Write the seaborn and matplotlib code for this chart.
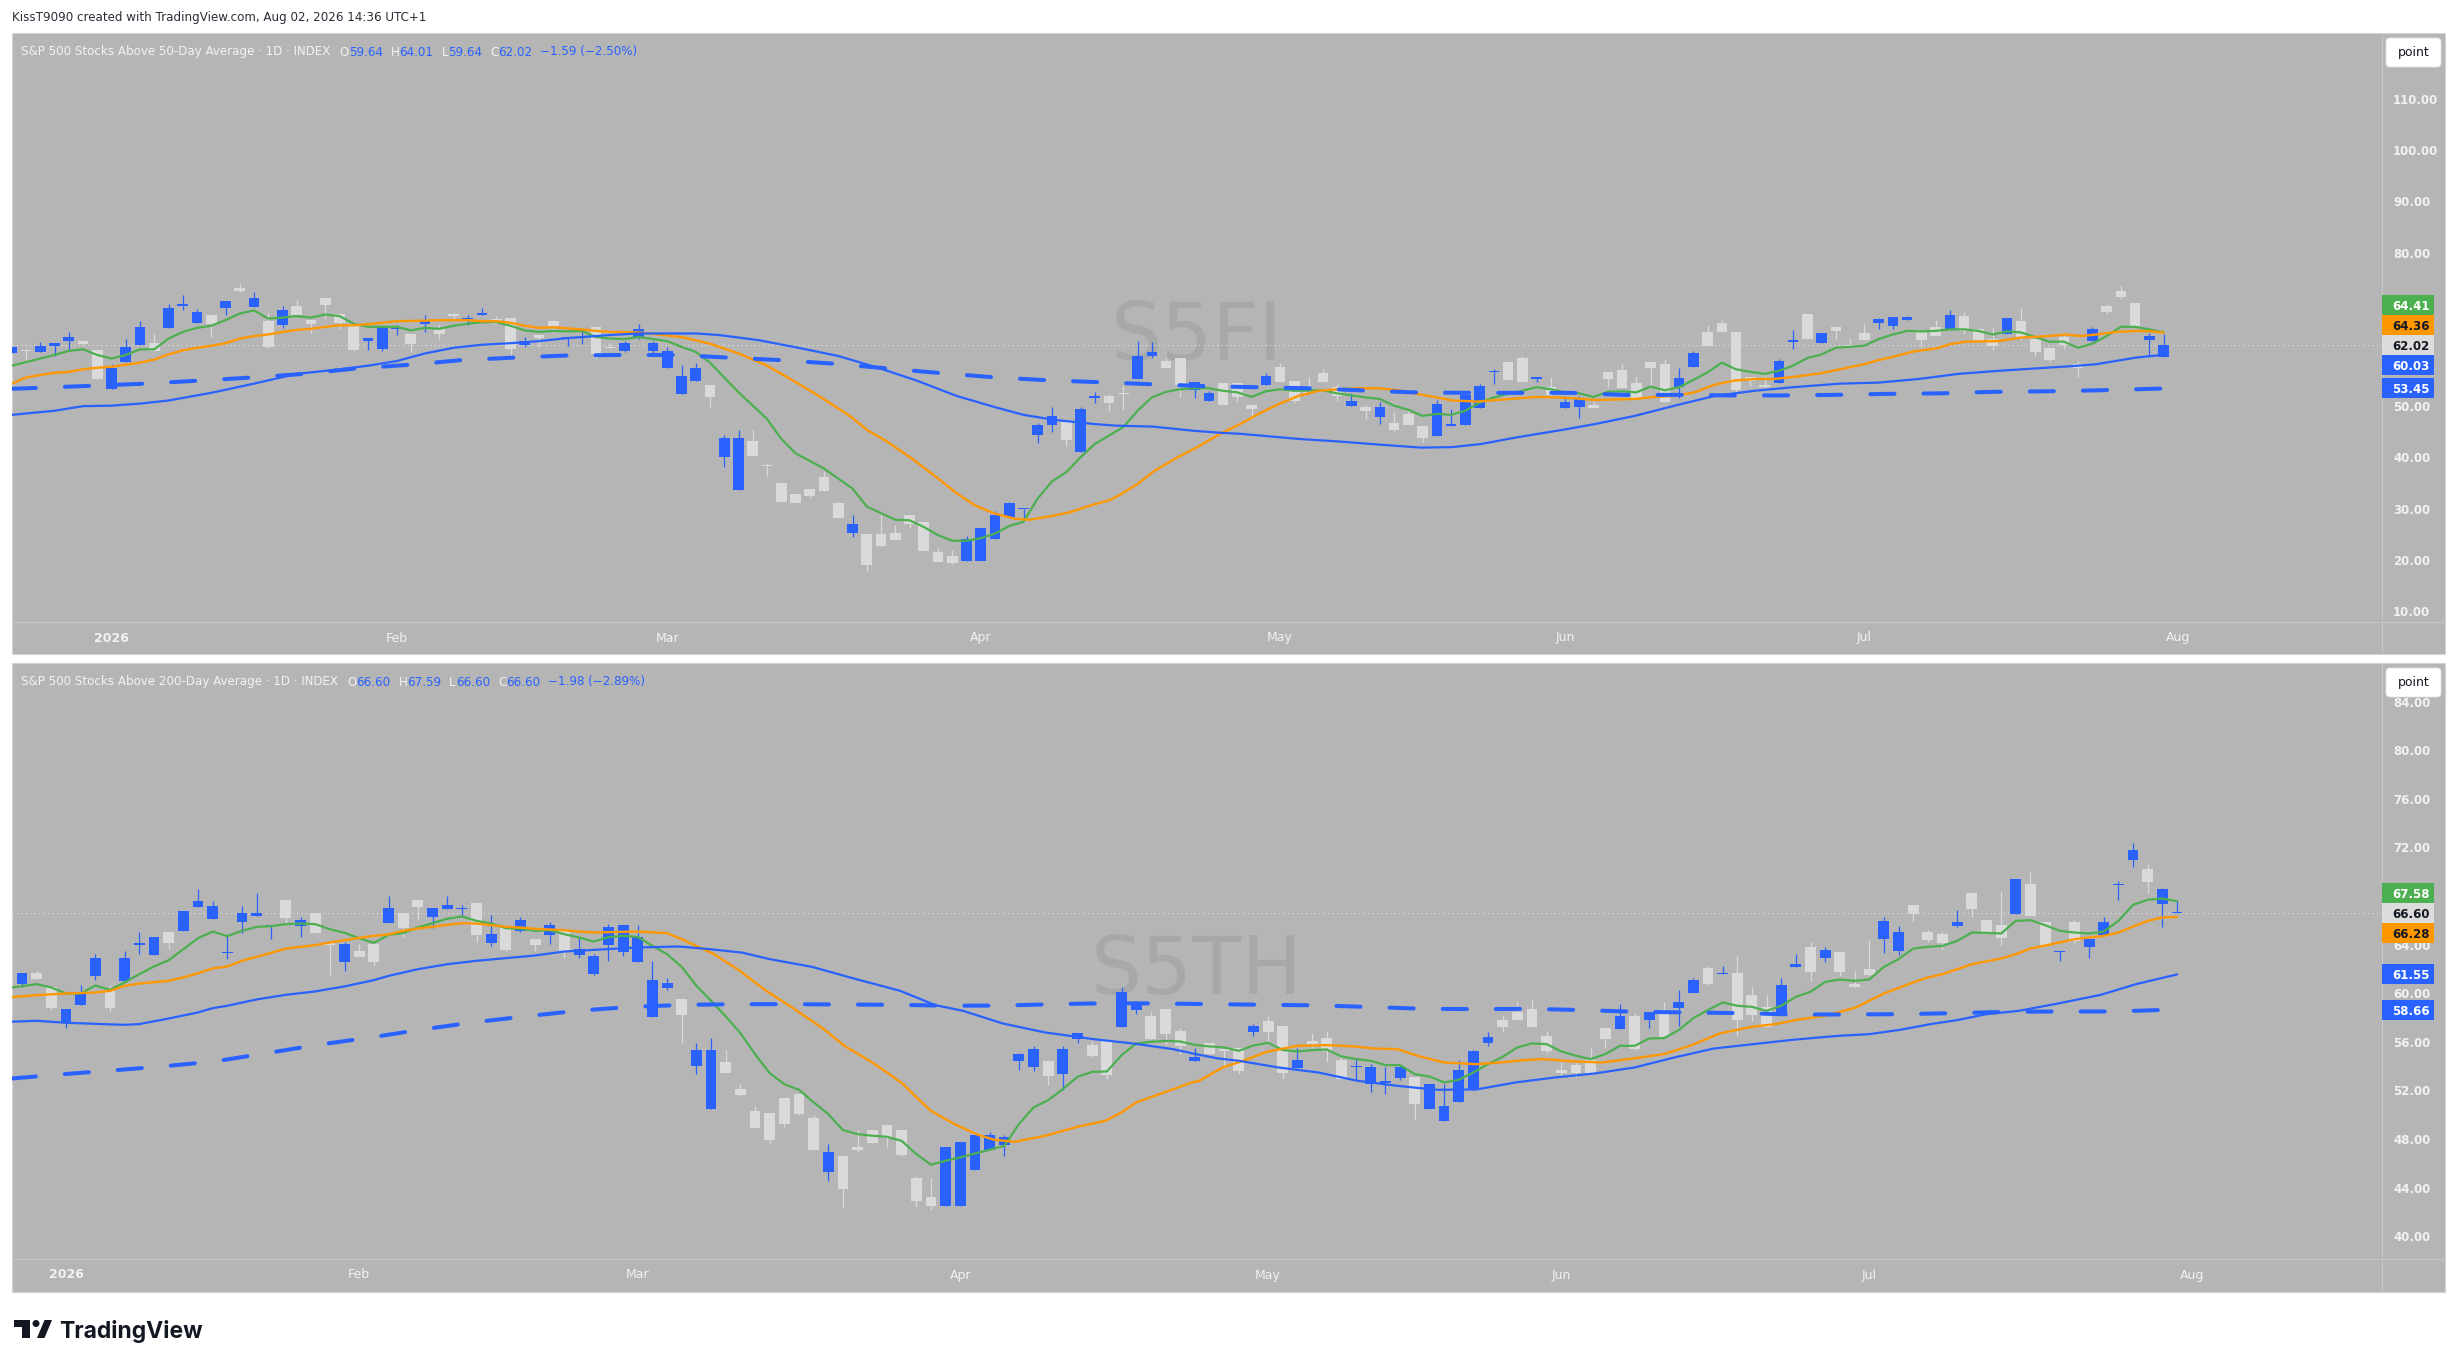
import numpy as np
import pandas as pd
import seaborn as sns
import matplotlib.pyplot as plt
from matplotlib import font_manager
from matplotlib.lines import Line2D
from matplotlib.patches import Rectangle, FancyBboxPatch, Ellipse, Polygon
from matplotlib.transforms import IdentityTransform, blended_transform_factory

# ---------------- data ----------------
session_start = "2025-12-22"
session_end = "2026-08-03"
market_holidays = ["2025-12-25", "2026-01-01", "2026-01-19", "2026-02-16",
                   "2026-04-03", "2026-05-25", "2026-06-19", "2026-07-03"]

header = "KissT9090 created with TradingView.com, Aug 02, 2026 14:36 UTC+1"

# S5FI - % of S&P 500 stocks above 50-day average, first bar = Dec 22 2025
s5fi_title = "S&P 500 Stocks Above 50-Day Average · 1D · INDEX"
s5fi_first_bar = 0
s5fi_open = [60.3, 60.9, 60.5, 61.7, 62.7, 62.7, 61.0, 53.3, 58.7, 61.9,
             62.3, 65.3, 69.6, 66.3, 67.8, 69.2, 73.0, 69.3, 66.6, 65.8,
             69.5, 66.8, 71.1, 68.0, 66.0, 62.7, 61.2, 65.1, 64.1, 66.0,
             65.0, 67.9, 67.0, 67.9, 67.0, 67.2, 61.9, 63.9, 66.6, 63.3,
             64.7, 65.5, 61.6, 60.8, 63.5, 60.7, 57.4, 52.3, 55.0, 54.2,
             40.0, 33.6, 43.1, 38.5, 34.9, 32.8, 33.9, 36.1, 31.0, 25.3,
             25.0, 25.0, 25.2, 28.7, 27.3, 21.5, 20.8, 19.8, 19.8, 24.1,
             28.4, 29.9, 44.3, 46.3, 47.0, 41.0, 51.6, 52.0, 52.5, 55.4,
             59.8, 58.8, 59.4, 53.1, 51.1, 54.6, 54.6, 50.3, 54.2, 57.7,
             55.0, 52.8, 56.5, 53.8, 50.0, 49.9, 47.8, 46.7, 48.4, 46.2,
             44.1, 46.1, 46.3, 49.6, 56.7, 58.6, 59.4, 55.3, 53.8, 49.6,
             49.8, 50.3, 56.7, 57.1, 54.6, 58.6, 58.3, 53.7, 57.7, 64.5,
             66.2, 64.5, 55.7, 54.2, 54.6, 62.6, 68.0, 62.4, 65.5, 61.9,
             64.3, 66.2, 65.7, 66.8, 64.7, 65.5, 65.1, 67.6, 65.1, 63.1,
             64.0, 66.6, 63.1, 61.4, 63.5, 58.3, 62.7, 69.5, 72.5, 70.1,
             63.0, 59.64]
s5fi_high = [61.6, 61.0, 62.5, 62.3, 64.5, 62.9, 61.0, 58.3, 63.1, 66.6,
             64.1, 70.0, 71.7, 69.0, 67.8, 70.5, 73.8, 72.3, 68.2, 69.5,
             70.7, 66.8, 71.1, 68.0, 66.0, 63.3, 65.5, 65.8, 64.1, 67.8,
             65.8, 68.2, 67.9, 69.2, 67.6, 67.2, 63.5, 63.9, 66.7, 63.5,
             65.1, 65.5, 62.3, 62.7, 66.1, 62.7, 61.6, 58.1, 58.5, 54.2,
             44.3, 45.4, 45.6, 38.8, 35.2, 32.8, 33.9, 37.3, 31.3, 28.7,
             25.0, 28.7, 26.7, 28.7, 27.3, 22.3, 21.9, 24.7, 26.2, 29.5,
             31.2, 30.0, 46.8, 49.9, 47.0, 49.9, 52.8, 52.4, 54.0, 62.7,
             62.5, 59.4, 59.4, 54.7, 53.0, 54.6, 54.6, 50.3, 56.4, 58.5,
             55.0, 55.6, 57.3, 54.3, 52.5, 50.3, 50.8, 48.9, 49.5, 46.2,
             51.2, 49.5, 52.5, 54.4, 57.2, 58.6, 59.8, 55.7, 55.6, 52.0,
             52.0, 51.1, 56.7, 58.3, 55.9, 58.6, 59.2, 57.5, 60.8, 65.8,
             66.8, 64.7, 55.7, 55.9, 59.2, 64.9, 68.0, 64.3, 65.5, 63.3,
             66.0, 67.2, 67.4, 67.6, 64.7, 66.8, 68.8, 68.4, 65.1, 65.5,
             67.2, 69.2, 63.1, 61.4, 64.3, 58.8, 65.5, 70.0, 73.6, 70.1,
             64.3, 64.01]
s5fi_low = [60.3, 59.0, 60.5, 59.8, 60.8, 62.1, 55.4, 53.3, 58.7, 61.9,
            60.8, 65.3, 68.8, 66.3, 63.5, 67.8, 72.3, 69.3, 61.3, 65.3,
            67.8, 64.2, 67.1, 65.1, 61.0, 61.0, 60.8, 63.9, 60.5, 64.4,
            63.1, 66.8, 65.8, 67.9, 66.1, 60.0, 61.6, 61.6, 64.4, 61.8,
            62.1, 59.3, 61.3, 60.5, 63.1, 60.0, 57.4, 52.3, 55.0, 49.8,
            38.1, 33.6, 40.2, 36.3, 31.3, 31.1, 32.1, 33.4, 28.2, 24.5,
            17.7, 22.7, 23.9, 26.1, 21.7, 19.6, 19.2, 19.8, 19.8, 24.1,
            28.4, 27.9, 42.8, 44.9, 42.3, 41.0, 50.7, 49.0, 49.3, 55.4,
            59.5, 57.4, 51.7, 51.5, 51.1, 50.2, 50.9, 47.4, 54.2, 54.8,
            50.7, 52.5, 54.8, 51.1, 50.0, 47.4, 46.6, 45.1, 46.3, 43.0,
            44.1, 46.1, 46.3, 49.6, 54.4, 55.1, 54.8, 54.8, 52.1, 49.6,
            47.6, 49.6, 53.8, 53.5, 51.5, 53.5, 50.9, 51.6, 57.7, 61.8,
            64.4, 51.9, 54.0, 53.8, 54.6, 61.2, 63.2, 62.4, 63.2, 61.5,
            63.0, 65.0, 65.0, 66.8, 61.6, 63.8, 65.1, 64.0, 62.9, 61.0,
            64.0, 63.0, 59.7, 58.8, 61.2, 55.7, 62.7, 68.1, 71.0, 65.7,
            59.8, 59.64]
s5fi_close = [61.6, 60.7, 61.8, 62.3, 63.5, 62.1, 55.4, 57.5, 61.6, 65.5,
              60.8, 69.2, 69.9, 68.4, 66.1, 70.5, 72.5, 71.1, 61.6, 68.8,
              67.8, 66.0, 69.7, 66.3, 61.0, 63.3, 65.5, 65.3, 62.2, 66.6,
              64.1, 67.7, 67.1, 68.1, 66.1, 61.2, 62.7, 63.4, 65.7, 63.5,
              65.0, 60.2, 61.3, 62.3, 65.1, 62.3, 60.8, 55.9, 57.4, 51.7,
              43.7, 43.7, 40.2, 38.3, 31.3, 31.1, 32.5, 33.4, 28.2, 26.9,
              19.0, 22.7, 23.9, 27.0, 21.7, 19.6, 19.4, 24.0, 26.2, 28.7,
              31.0, 30.0, 46.4, 48.1, 43.3, 49.5, 52.0, 50.7, 52.3, 59.8,
              60.6, 57.4, 54.2, 54.7, 52.5, 50.2, 51.8, 49.4, 55.9, 54.8,
              51.1, 52.5, 54.8, 51.9, 51.1, 49.1, 49.9, 45.3, 46.3, 43.7,
              50.5, 46.6, 52.1, 54.0, 56.9, 55.1, 54.8, 55.7, 52.1, 50.9,
              51.3, 49.6, 55.4, 53.5, 51.5, 57.5, 50.9, 55.5, 60.4, 61.8,
              64.4, 53.2, 55.0, 53.8, 58.8, 62.7, 63.2, 64.3, 64.7, 61.5,
              63.0, 67.0, 67.4, 67.4, 63.0, 63.8, 67.8, 64.7, 62.9, 61.7,
              67.2, 63.4, 60.5, 59.1, 62.0, 57.5, 65.0, 68.4, 71.4, 65.7,
              63.61, 62.02]

# moving averages of S5FI as (bar, value) points
s5fi_ma_fast = [(0, 57.9), (2, 59.3), (3, 60.0), (4, 60.8), (5, 61.1), (6, 60.0), (7, 59.3), (8, 60.0),
                (9, 61.1), (10, 61.1), (11, 63.2), (12, 64.5), (13, 65.3), (14, 65.7), (15, 66.8), (16, 68.1),
                (17, 68.7), (18, 67.1), (19, 67.3), (20, 67.6), (21, 67.3), (22, 67.9), (23, 67.6), (24, 66.1),
                (25, 65.5), (27, 65.5), (28, 64.8), (29, 65.3), (30, 65.1), (31, 65.7), (32, 66.1), (33, 66.4),
                (34, 66.4), (35, 65.7), (36, 64.8), (37, 64.5), (38, 64.7), (39, 64.6), (40, 64.7), (41, 63.5),
                (42, 63.2), (43, 63.1), (44, 63.5), (46, 62.7), (47, 61.6), (48, 60.6), (49, 58.5), (50, 55.6),
                (51, 52.7), (53, 47.5), (54, 43.6), (55, 40.8), (57, 37.8), (59, 33.9), (60, 30.4), (62, 27.8),
                (63, 27.7), (64, 26.4), (65, 24.8), (66, 23.7), (67, 23.7), (68, 24.2), (69, 25.1), (70, 26.6),
                (71, 27.4), (72, 32.0), (73, 35.3), (74, 37.1), (75, 40.0), (76, 42.6), (78, 45.9), (79, 49.1),
                (80, 51.7), (81, 52.8), (82, 53.3), (83, 53.5), (84, 53.5), (85, 53.0), (86, 52.7), (87, 51.8),
                (88, 52.9), (89, 53.3), (90, 53.0), (92, 53.1), (93, 52.5), (95, 51.7), (96, 51.4), (97, 50.1),
                (98, 49.3), (99, 48.1), (100, 48.5), (101, 48.3), (102, 49.1), (103, 50.7), (104, 51.7),
                (105, 52.4), (106, 53.0), (107, 53.7), (108, 53.3), (109, 52.7), (110, 52.5), (111, 51.8),
                (112, 52.8), (113, 52.9), (114, 52.7), (115, 53.8), (116, 53.1), (117, 53.7), (118, 55.1),
                (119, 56.6), (120, 58.5), (121, 57.2), (122, 56.7), (123, 56.3), (124, 56.9), (125, 57.9),
                (126, 59.4), (127, 60.1), (128, 61.4), (129, 61.6), (130, 61.8), (131, 63.1), (132, 64.0),
                (133, 64.7), (134, 64.6), (135, 64.7), (136, 65.0), (137, 65.0), (138, 64.7), (139, 64.0),
                (140, 64.6), (141, 64.4), (142, 63.5), (143, 62.6), (144, 62.6), (145, 61.4), (146, 62.2),
                (147, 63.7), (148, 65.5), (149, 65.5), (150, 65.0), (151, 64.41)]
s5fi_ma_mid = [(0, 54.4), (1, 55.6), (2, 56.1), (3, 56.5), (4, 56.7), (5, 57.2), (6, 57.5), (7, 57.7), (8, 58.1),
               (9, 58.5), (10, 59.1), (11, 60.1), (12, 60.9), (13, 61.4), (14, 61.8), (15, 62.3), (16, 63.2),
               (17, 63.7), (18, 64.0), (19, 64.5), (20, 64.9), (21, 65.1), (22, 65.5), (23, 65.8), (24, 65.8),
               (25, 66.0), (26, 66.3), (27, 66.6), (29, 66.7), (30, 66.8), (31, 66.8), (32, 66.8), (33, 66.6),
               (34, 66.6), (35, 66.3), (36, 65.7), (37, 65.3), (38, 65.4), (39, 65.2), (40, 65.0), (41, 64.7),
               (42, 64.5), (44, 64.4), (47, 63.5), (49, 62.2), (51, 60.3), (53, 57.9), (55.2, 54.4), (56.8, 51.7),
               (58.8, 48.1), (60.1, 45.2), (61.3, 43.3), (63.2, 39.7), (64.9, 36.1), (66.3, 33.0), (67.6, 30.6),
               (69, 29.0), (70.4, 28.0), (71.4, 27.8), (72.9, 28.5), (74.3, 29.3), (75.7, 30.6), (77.1, 31.7),
               (77.9, 32.9), (79, 34.8), (80.1, 37.2), (81.8, 40.0), (83.2, 42.0), (84.8, 44.6), (86.2, 46.5),
               (87.5, 48.5), (88.9, 50.4), (90.3, 52.0), (91.7, 53.0), (93.1, 53.3), (94.5, 53.5), (95.9, 53.5),
               (97.3, 53.1), (98.6, 52.4), (100, 51.7), (101.1, 51.1), (102.8, 50.9), (104.2, 51.2),
               (105.6, 51.5), (107, 51.8), (108.4, 51.7), (109.8, 51.5), (111.1, 51.2), (112.5, 51.3),
               (113.9, 51.4), (115.3, 51.8), (116.7, 52.0), (118.1, 52.7), (119.5, 54.2), (120.9, 55.0),
               (122.3, 55.3), (123.6, 55.3), (125, 55.7), (126.9, 56.4), (128.3, 57.2), (130, 58.2), (131, 59.0),
               (132.1, 59.7), (133.5, 60.7), (135.1, 61.3), (136, 62.1), (137.1, 62.6), (139.4, 62.7),
               (141, 63.4), (143, 63.7), (144.1, 64.0), (145.2, 63.7), (146.3, 64.0), (147.7, 64.5),
               (149.1, 64.7), (150.2, 64.6), (151, 64.36)]
s5fi_ma_slow = [(0, 48.3), (3, 49.1), (5, 50.0), (7, 50.1), (9, 50.5), (11, 51.1), (14, 52.6), (17, 54.4),
                (20, 56.3), (23, 57.2), (25, 57.9), (27, 58.8), (29, 60.3), (31, 61.4), (33, 62.0), (35, 62.3),
                (37, 62.7), (39, 63.3), (41, 63.7), (42, 63.9), (44, 64.2), (48, 64.2), (49.6, 63.9),
                (52.4, 62.9), (55.2, 61.4), (58, 59.8), (60.8, 57.5), (63.5, 55.0), (66.3, 52.0), (69, 49.8),
                (71, 48.3), (73.2, 47.3), (76, 46.5), (77.4, 46.2), (80.1, 46.0), (82.9, 45.2), (84.8, 44.8),
                (86.2, 44.6), (90.3, 43.6), (93.1, 43.1), (95.9, 42.5), (98.9, 41.9), (101.1, 42.0),
                (103.1, 42.6), (105.6, 43.9), (108.9, 45.4), (111.1, 46.5), (113.9, 48.1), (116.7, 50.1),
                (119.5, 52.0), (122.3, 53.0), (125, 53.7), (128.3, 54.4), (131, 54.6), (133.8, 55.3),
                (136.6, 56.3), (139.4, 56.9), (142.2, 57.4), (145, 57.9), (146.3, 58.2), (149.1, 59.5),
                (151, 60.03)]
s5fi_ma_long = [(0, 53.4), (1.1, 53.5), (5.8, 54.0), (9.4, 54.4), (13.2, 55.0), (16.9, 55.6), (20.5, 56.3),
                (24.3, 57.4), (28, 58.1), (31.6, 59.0), (35.4, 59.5), (39, 59.9), (42.8, 60.0), (46.6, 60.0),
                (50.2, 59.5), (53.9, 59.0), (57.7, 58.3), (61.3, 57.4), (65, 56.5), (68.6, 55.7), (72.4, 55.1),
                (76.1, 54.7), (79.8, 54.3), (83.9, 53.9), (87.3, 53.7), (90.9, 53.5), (94.6, 53.1), (98.3, 52.7),
                (102, 52.6), (105.7, 52.6), (109.4, 52.6), (113.1, 52.2), (116.9, 52.2), (120.5, 52.1),
                (124.3, 52.1), (127.9, 52.2), (131.6, 52.4), (135.3, 52.5), (139.1, 52.8), (142.8, 52.9),
                (146.5, 53.1), (151, 53.45)]

# S5TH - % of S&P 500 stocks above 200-day average, first visible bar = Dec 26 2025
s5th_title = "S&P 500 Stocks Above 200-Day Average · 1D · INDEX"
s5th_first_bar = 3
s5th_open = [60.90, 60.75, 61.65, 60.50, 57.51, 59.02, 61.41,
             60.25, 60.99, 64.00, 63.14, 65.03, 65.11, 67.09, 66.10, 63.33, 65.85,
             66.37, 65.52, 67.66, 65.52, 66.59, 64.20, 62.56, 63.46, 64.04, 65.77,
             66.59, 67.66, 66.26, 66.92, 66.92, 67.41, 64.12, 65.44, 65.11, 64.45,
             64.78, 65.19, 63.14, 61.57, 63.96, 63.41, 62.59, 58.06, 60.42, 59.51,
             54.02, 50.49, 54.33, 52.11, 50.30, 50.13, 51.37, 51.70, 49.72, 45.30,
             46.59, 47.36, 48.73, 49.14, 48.73, 44.81, 43.25, 42.50, 42.50, 45.47,
             47.11, 47.52, 54.44, 53.94, 54.41, 53.37, 56.25, 55.73, 56.06, 57.24,
             58.64, 58.12, 58.69, 56.88, 54.44, 55.89, 55.45, 55.48, 56.82, 57.70,
             57.29, 53.86, 56.06, 56.30, 54.49, 53.94, 52.55, 52.63, 53.04, 53.09,
             50.49, 49.50, 51.06, 52.05, 55.89, 57.78, 58.44, 58.69, 56.47, 53.67,
             54.08, 54.49, 57.13, 57.05, 58.12, 57.78, 58.44, 58.77, 60.01, 62.07,
             61.60, 61.65, 59.84, 58.85, 58.36, 62.17, 63.79, 62.89, 63.38, 60.75,
             61.98, 64.45, 63.46, 67.25, 65.03, 64.86, 65.52, 68.24, 66.02, 65.60,
             66.51, 68.98, 65.85, 63.38, 65.85, 63.79, 64.78, 68.90, 70.95, 70.21,
             67.33, 66.60]
s5th_high = [60.90, 61.65, 61.85, 60.50, 58.69, 60.67, 63.22,
             60.67, 63.46, 65.03, 64.62, 65.03, 66.76, 68.57, 67.58, 64.78, 67.17,
             68.24, 65.58, 67.66, 66.26, 66.59, 64.20, 64.20, 64.04, 64.20, 67.99,
             66.59, 67.66, 67.00, 67.99, 67.25, 67.41, 66.43, 65.44, 66.26, 64.45,
             65.85, 65.19, 64.62, 63.22, 65.69, 65.60, 65.60, 62.64, 61.24, 59.51,
             55.89, 56.30, 55.32, 52.52, 50.71, 50.13, 51.37, 51.70, 49.97, 47.58,
             46.59, 48.73, 48.73, 49.14, 48.73, 44.97, 44.81, 47.36, 47.74, 48.32,
             48.57, 48.32, 55.07, 55.65, 54.41, 55.65, 56.72, 56.03, 56.06, 60.50,
             59.27, 58.44, 58.69, 57.13, 55.48, 55.89, 55.45, 55.48, 57.46, 58.12,
             57.29, 55.48, 56.72, 56.88, 55.01, 54.69, 54.19, 53.92, 53.92, 53.09,
             52.52, 52.52, 54.49, 55.32, 56.80, 58.20, 59.27, 59.51, 56.88, 54.33,
             54.36, 55.48, 57.13, 59.10, 58.39, 58.44, 59.27, 60.25, 61.24, 62.23,
             62.23, 63.05, 60.50, 59.84, 61.24, 63.22, 64.20, 63.77, 63.38, 61.82,
             64.37, 66.26, 65.52, 67.25, 65.19, 65.03, 66.84, 68.24, 66.02, 68.40,
             69.39, 70.05, 65.85, 63.46, 66.02, 64.45, 66.26, 69.23, 72.35, 70.62,
             68.65, 67.59]
s5th_low = [60.50, 60.50, 61.16, 58.66, 57.15, 59.02, 61.08,
            58.47, 60.99, 63.22, 63.14, 63.63, 65.11, 67.09, 66.10, 62.81, 64.97,
            66.37, 64.45, 65.69, 64.62, 64.95, 61.49, 61.82, 62.97, 62.23, 65.77,
            64.62, 66.02, 65.36, 66.92, 66.26, 64.20, 63.88, 63.46, 65.03, 63.46,
            64.04, 62.89, 62.89, 61.49, 62.64, 63.08, 62.59, 58.06, 60.25, 55.92,
            53.34, 50.49, 53.45, 51.53, 48.92, 47.61, 49.01, 49.97, 47.11, 44.56,
            42.42, 46.95, 47.69, 47.36, 46.62, 42.42, 42.15, 42.50, 42.50, 45.47,
            47.11, 46.62, 53.67, 53.61, 52.46, 52.05, 55.92, 54.77, 52.96, 57.24,
            58.28, 56.25, 55.76, 54.99, 54.44, 55.01, 53.94, 53.37, 56.49, 56.00,
            52.93, 53.86, 55.51, 54.36, 52.96, 52.87, 51.89, 51.72, 52.87, 49.58,
            50.49, 49.50, 51.06, 52.05, 55.65, 56.80, 57.78, 57.21, 55.07, 53.12,
            53.12, 53.45, 55.48, 57.05, 55.32, 57.13, 56.39, 57.29, 60.01, 60.67,
            61.60, 56.47, 57.70, 57.21, 58.36, 62.17, 60.99, 62.56, 61.41, 60.53,
            61.49, 63.30, 63.14, 65.85, 64.20, 63.63, 65.44, 66.26, 64.86, 63.88,
            66.51, 66.35, 63.96, 62.64, 64.12, 62.89, 64.78, 67.66, 70.38, 68.24,
            65.44, 66.60]
s5th_close = [60.50, 61.65, 61.16, 58.77, 58.69, 60.09, 62.89,
              58.77, 62.89, 64.10, 64.62, 64.12, 66.76, 67.58, 67.17, 63.41, 66.59,
              66.59, 65.58, 66.18, 66.02, 64.95, 63.99, 64.04, 62.97, 62.56, 67.00,
              65.36, 67.09, 67.00, 67.25, 66.98, 64.78, 64.86, 63.55, 66.02, 63.96,
              65.60, 63.38, 63.63, 63.05, 65.44, 65.60, 64.62, 61.08, 60.83, 58.22,
              55.32, 55.32, 53.45, 51.64, 48.92, 47.94, 49.25, 50.05, 47.11, 46.92,
              43.90, 47.11, 47.69, 48.10, 46.70, 42.92, 42.50, 47.36, 47.74, 48.32,
              48.32, 48.16, 54.99, 55.40, 53.20, 55.40, 56.72, 54.85, 53.29, 60.09,
              59.10, 56.25, 56.66, 55.67, 54.74, 55.01, 55.27, 53.61, 57.29, 56.82,
              53.45, 54.49, 55.84, 55.23, 52.96, 54.00, 53.92, 52.71, 53.92, 50.90,
              52.52, 50.71, 53.67, 55.23, 56.39, 57.21, 57.78, 57.21, 55.23, 53.45,
              53.45, 53.45, 56.22, 58.12, 55.40, 58.44, 56.39, 59.27, 61.08, 60.75,
              61.65, 57.78, 58.20, 57.21, 60.67, 62.39, 61.74, 63.55, 61.74, 60.53,
              61.49, 65.93, 65.03, 66.56, 64.37, 64.12, 65.85, 66.92, 64.95, 64.53,
              69.39, 66.35, 63.96, 63.46, 64.29, 64.45, 65.85, 68.98, 71.78, 69.14,
              68.58, 66.60]

s5th_ma_fast = [(3, 60.42), (5, 60.75), (6, 60.47), (7, 59.98), (8, 59.98), (9, 60.64), (10, 60.28), (11, 60.89),
                (12, 61.57), (13, 62.20), (14, 62.72), (15, 63.63), (16, 64.53), (17, 65.08), (18, 64.70),
                (19, 65.14), (20, 65.47), (21, 65.52), (22, 65.69), (23, 65.74), (24, 65.69), (25, 65.27),
                (26, 64.97), (27, 64.53), (28, 64.15), (29, 64.81), (30, 64.95), (31, 65.41), (32, 65.77),
                (33, 66.13), (34, 66.32), (35, 65.96), (36, 65.74), (37, 65.36), (38, 65.30), (39, 65.14),
                (40, 65.19), (41, 64.86), (42, 64.59), (43, 64.26), (44, 64.62), (45, 64.73), (46, 64.64),
                (47, 63.90), (48, 63.22), (49, 62.17), (50, 60.61), (51, 59.38), (52, 58.09), (53, 56.72),
                (54, 54.99), (55, 53.42), (56, 52.52), (57, 52.05), (58, 51.01), (59, 50.05), (60, 48.73),
                (61, 48.40), (62, 48.27), (63, 48.18), (64, 47.85), (65, 46.76), (66, 45.88), (67, 46.21),
                (68, 46.48), (69, 46.81), (70, 47.11), (71, 47.44), (72, 49.23), (73, 50.60), (74, 51.20),
                (75, 52.11), (76, 53.12), (77, 53.53), (78, 53.56), (79, 54.90), (80, 55.86), (81, 56.00),
                (82, 56.08), (83, 56.03), (84, 55.75), (85, 55.62), (86, 55.54), (87, 55.26), (88, 55.70),
                (89, 55.92), (90, 55.32), (91, 55.21), (92, 55.32), (93, 55.37), (94, 54.80), (95, 54.58),
                (96, 54.44), (97, 54.08), (98, 54.08), (99, 53.34), (100, 53.15), (101, 52.66), (102, 52.87),
                (103, 53.48), (104, 54.16), (105, 54.77), (106, 55.54), (107, 55.87), (108, 55.81),
                (109, 55.21), (110, 54.85), (111, 54.58), (112, 54.99), (113, 55.67), (114, 55.67),
                (115, 56.28), (116, 56.30), (117, 56.96), (118, 57.95), (119, 58.61), (120, 59.24),
                (121, 58.97), (122, 58.88), (123, 58.55), (124, 58.97), (125, 59.71), (126, 60.12),
                (127, 60.94), (128, 61.13), (129, 61.02), (130, 61.13), (131, 62.17), (132, 62.81),
                (133, 63.68), (134, 63.82), (135, 63.90), (136, 64.31), (137, 65.00), (138, 64.97),
                (139, 64.92), (140, 65.96), (141, 66.02), (142, 65.60), (143, 65.14), (144, 65.00),
                (145, 64.92), (146, 65.08), (147, 65.96), (148, 67.28), (149, 67.69), (150, 67.80),
                (151, 67.58)]
s5th_ma_mid = [(3, 59.65), (5, 59.84), (7, 59.98), (9, 60.06), (10, 60.20), (11, 60.61), (12, 60.80), (14, 61.02),
               (15, 61.30), (16, 61.65), (17, 62.04), (18, 62.20), (19, 62.67), (20, 63.00), (21, 63.33),
               (22, 63.68), (23, 63.82), (24, 63.96), (25, 64.18), (26, 64.37), (27, 64.56), (28, 64.73),
               (29, 64.84), (30, 65.14), (31, 65.33), (32, 65.47), (33, 65.63), (34, 65.77), (35, 65.74),
               (36, 65.60), (37, 65.47), (38, 65.41), (39, 65.30), (40, 65.25), (41, 65.19), (42, 65.08),
               (43, 65.00), (44, 65.03), (46, 65.08), (48, 64.95), (49, 64.45), (51.2, 63.22), (52.9, 61.90),
               (54.7, 60.25), (56.6, 58.77), (58.7, 57.04), (60.1, 55.67), (62, 54.30), (63, 53.48),
               (64.1, 52.52), (64.9, 51.56), (66, 50.32), (67.6, 49.23), (69.2, 48.35), (70.3, 47.94),
               (71.7, 47.77), (73.8, 48.27), (76, 49.01), (77.9, 49.50), (79, 50.19), (80, 51.01),
               (81.9, 51.83), (83.8, 52.66), (84.3, 52.79), (85.9, 53.89), (87.3, 54.44), (88.9, 55.18),
               (91, 55.67), (93, 55.73), (94.9, 55.62), (96.2, 55.45), (97.8, 55.40), (99.2, 54.85),
               (101, 54.30), (103.2, 54.16), (104.8, 54.30), (106.4, 54.49), (107.8, 54.58), (109.9, 54.38),
               (111.8, 54.30), (113.9, 54.63), (116, 54.99), (117.9, 55.73), (119.8, 56.69), (122, 57.24),
               (123.6, 57.46), (125.2, 57.84), (127, 58.14), (129.1, 58.83), (130, 59.38), (131, 59.98),
               (133, 60.89), (134, 61.30), (135, 61.57), (137, 62.39), (139, 62.86), (140, 63.22),
               (141, 63.68), (143, 64.18), (144, 64.45), (146, 64.73), (147, 65.00), (148, 65.49),
               (149, 65.96), (150, 66.24), (151, 66.28)]
s5th_ma_slow = [(3, 57.65), (5, 57.73), (7, 57.57), (9, 57.48), (11, 57.40), (12, 57.46), (14, 57.92),
                (16, 58.42), (17, 58.77), (18, 58.97), (20, 59.49), (22, 59.87), (24, 60.15), (25, 60.36),
                (26, 60.56), (28, 61.08), (29, 61.43), (31, 61.98), (33, 62.39), (35, 62.67), (37, 62.89),
                (39, 63.11), (41, 63.44), (43, 63.57), (46, 63.77), (48.8, 63.85), (50.9, 63.63), (53.1, 63.35),
                (55, 62.81), (57.9, 62.17), (60.9, 61.16), (63.9, 60.20), (66.3, 59.02), (68.2, 58.55),
                (70.9, 57.51), (73.8, 56.77), (77.1, 56.22), (79.8, 55.86), (82.5, 55.40), (84.3, 54.93),
                (85.6, 54.63), (87, 54.44), (89.7, 53.89), (92.4, 53.48), (95.1, 52.79), (97.8, 52.38),
                (100.5, 52.05), (103.2, 52.08), (105.9, 52.66), (108.6, 53.07), (111.3, 53.40), (114, 53.89),
                (116.7, 54.71), (119.4, 55.45), (122.1, 55.81), (124.8, 56.17), (126.6, 56.36), (128, 56.50),
                (130, 56.63), (132.1, 56.99), (134.2, 57.46), (136.1, 57.81), (138, 58.28), (140.2, 58.55),
                (142.9, 59.16), (145.8, 59.87), (148.2, 60.75), (151, 61.55)]
s5th_ma_long = [(3.3, 52.98), (6.3, 53.29), (9.9, 53.62), (13.5, 53.97), (17.1, 54.38), (20.7, 55.07),
                (24.2, 55.76), (27.8, 56.36), (31.3, 57.02), (34.9, 57.62), (38.5, 58.12), (42.1, 58.58),
                (45.6, 58.88), (49.3, 59.05), (52.9, 59.10), (56.5, 59.10), (60.1, 59.07), (63.7, 59.05),
                (67.3, 58.97), (70.9, 58.99), (74.5, 59.10), (78, 59.18), (81.6, 59.16), (85.3, 59.10),
                (88.9, 59.05), (92.5, 59.00), (96.1, 58.86), (99.7, 58.72), (103.3, 58.69), (106.9, 58.72),
                (110.5, 58.61), (114.2, 58.47), (117.7, 58.42), (121.3, 58.36), (124.9, 58.25), (128.6, 58.25),
                (132.2, 58.28), (135.8, 58.36), (139.4, 58.47), (143, 58.50), (146.6, 58.50), (151, 58.66)]

s5fi_yticks = [10, 20, 30, 40, 50, 60, 70, 80, 90, 100, 110]
s5th_yticks = [40, 44, 48, 52, 56, 60, 64, 68, 72, 76, 80, 84]

# ---------------- style ----------------
sns.set_style("white")
installed = {f.name for f in font_manager.fontManager.ttflist}
if "Liberation Sans Narrow" in installed:
    NARROW, NARROW_SIZE = ["Liberation Sans Narrow", "DejaVu Sans"], 10
else:
    NARROW, NARROW_SIZE = ["DejaVu Sans"], 8.6
plt.rcParams["font.family"] = ["DejaVu Sans"]

BG = "#b5b5b5"
SEP = "#c6c6c6"
BLUE = "#2962ff"
CANDLE_DOWN = "#dadada"
GREEN = "#4caf50"
ORANGE = "#ff9800"
LIGHT = "#f2f2f2"
DARK = "#131722"

W, H = 2457, 1365
LEFT, PRICE_X, RIGHT = 12, 2382, 2445
PX = IdentityTransform()

fig = plt.figure(figsize=(W / 100, H / 100), dpi=100)
fig.patch.set_facecolor("white")


def P(x, y):
    return (x, H - y)


trading_days = pd.bdate_range(session_start, session_end, freq="C", holidays=market_holidays)
month_bars = [i for i in range(1, len(trading_days)) if trading_days[i].month != trading_days[i - 1].month]
month_names = [str(trading_days[i].year) if trading_days[i].month == 1 else trading_days[i].strftime("%b")
               for i in month_bars]


def text_run(x, y, pieces, size, family):
    renderer = fig.canvas.get_renderer()
    for s, color, gap in pieces:
        t = fig.text(x, H - y, s, transform=PX, color=color, fontsize=size, family=family,
                     ha="left", va="center", zorder=5)
        x += t.get_window_extent(renderer).width + gap


def draw_panel(top, axis_y, bottom, first_bar, o, h, l, c, mas, xlim, ylim, yticks, title, mark):
    fig.add_artist(Rectangle(P(LEFT, bottom), RIGHT - LEFT, bottom - top, transform=PX,
                             facecolor=BG, edgecolor="#d4d4d4", linewidth=0.8, zorder=-1))
    ax = fig.add_axes([LEFT / W, 1 - axis_y / H, (PRICE_X - LEFT) / W, (axis_y - top) / H])
    ax.set_facecolor("none")
    for s in ax.spines.values():
        s.set_visible(False)

    o, h, l, c = (np.asarray(v, dtype=float) for v in (o, h, l, c))
    bars = np.arange(first_bar, first_bar + len(c))
    colors = np.where(c >= o, BLUE, CANDLE_DOWN)
    unit_px = (axis_y - top) / (ylim[1] - ylim[0])
    body_lo = np.minimum(o, c)
    body_h = np.maximum(np.abs(c - o), 1.3 / unit_px)
    ax.vlines(bars, l, h, colors=colors, linewidth=0.9, zorder=2)
    ax.bar(bars, body_h, bottom=body_lo, width=0.74, color=colors, linewidth=0, zorder=3)

    ax.axhline(c[-1], color="#e4e4e4", linewidth=0.8, linestyle=(0, (1, 3)), zorder=1)

    for pts, color, lw, dashed in mas:
        mx, my = zip(*pts)
        sns.lineplot(x=list(mx), y=list(my), ax=ax, color=color, linewidth=lw, zorder=4)
        if dashed:
            line = ax.lines[-1]
            line.set_linestyle((0, (6, 7.2)))
            line.set_dash_capstyle("round")

    ax.set_xlim(*xlim)
    ax.set_ylim(*ylim)
    ax.set_xlabel("")
    ax.set_ylabel("")
    ax.set_xticks([])
    ax.yaxis.tick_right()
    ax.set_yticks(yticks)
    ax.set_yticklabels([f"{t:.2f}" for t in yticks])
    ax.tick_params(axis="y", length=0, pad=7.9, labelsize=8.5, labelcolor=LIGHT)
    for lab in ax.get_yticklabels():
        lab.set_fontweight("bold")

    # watermark
    ax.text(0.5, 0.445, mark, transform=ax.transAxes, ha="center", va="baseline",
            fontsize=70 if NARROW[0] != "DejaVu Sans" else 58, family=NARROW, color="#a7a8aa", zorder=0)

    # separators
    fig.add_artist(Line2D([LEFT, RIGHT], [H - axis_y] * 2, transform=PX, color=SEP, linewidth=0.8))
    fig.add_artist(Line2D([PRICE_X] * 2, [H - top, H - bottom], transform=PX, color=SEP, linewidth=0.8))

    # time axis
    xt = blended_transform_factory(ax.transData, PX)
    for b, name in zip(month_bars, month_names):
        if xlim[0] <= b <= xlim[1]:
            ax.text(b, H - (axis_y + 16), name, transform=xt, ha="center", va="center", color=LIGHT,
                    fontsize=9, fontweight="bold" if name.isdigit() else "normal")

    # "point" button
    fig.add_artist(FancyBboxPatch(P(2386, top + 34), 55, 29, transform=PX,
                                  boxstyle="round,pad=0,rounding_size=4",
                                  facecolor="white", edgecolor="#e0e3eb", linewidth=0.6, zorder=3))
    fig.text(2413.5, H - (top + 19.5), "point", transform=PX, ha="center", va="center",
             fontsize=9, color=DARK, zorder=4)

    # last-value labels on the price scale, stacked like TradingView
    items = [(mas[0][0][-1][1], GREEN, "white", False), (mas[1][0][-1][1], ORANGE, DARK, False),
             (c[-1], "#dcdcdc", DARK, True), (mas[2][0][-1][1], BLUE, "white", False),
             (mas[3][0][-1][1], BLUE, "white", False)]
    items.sort(key=lambda t: -t[0])
    ydisp = [ax.transData.transform((xlim[0], v))[1] for v, *_ in items]
    k = [it[3] for it in items].index(True)
    pos = list(ydisp)
    for j in range(k - 1, -1, -1):
        pos[j] = max(ydisp[j], pos[j + 1] + 20)
    for j in range(k + 1, len(items)):
        pos[j] = min(ydisp[j], pos[j - 1] - 20)
    for (v, face, tc, _), p in zip(items, pos):
        fig.add_artist(Rectangle((PRICE_X, p - 10), 52, 20, transform=PX, facecolor=face,
                                 edgecolor="none", zorder=3))
        fig.text(2392, p, f"{v:.2f}", transform=PX, ha="left", va="center_baseline",
                 fontsize=8.5, fontweight="bold", color=tc, zorder=4)

    # legend line
    chg = c[-1] - c[-2]
    pct = chg / c[-2] * 100
    fmt = lambda v: f"{v:.2f}".replace("-", "\u2212")
    pieces = [(title, LIGHT, 9), ("O", LIGHT, 0), (fmt(o[-1]), BLUE, 8), ("H", LIGHT, 0), (fmt(h[-1]), BLUE, 8),
              ("L", LIGHT, 0), (fmt(l[-1]), BLUE, 8), ("C", LIGHT, 0), (fmt(c[-1]), BLUE, 8),
              (f"{fmt(chg)} ({fmt(pct)}%)", BLUE, 0)]
    text_run(21, top + 19, pieces, NARROW_SIZE, NARROW)
    return ax


fig.text(12, H - 18, header, transform=PX, ha="left", va="center", fontsize=NARROW_SIZE,
         family=NARROW, color="#2a2e39")

draw_panel(33, 622, 654, s5fi_first_bar, s5fi_open, s5fi_high, s5fi_low, s5fi_close,
           [(s5fi_ma_fast, GREEN, 1.6, False), (s5fi_ma_mid, ORANGE, 1.7, False),
            (s5fi_ma_slow, BLUE, 1.6, False), (s5fi_ma_long, BLUE, 2.9, True)],
           (0.0175, 166.33), (7.83, 122.9), s5fi_yticks, s5fi_title, "S5FI")

draw_panel(663, 1259, 1292, s5th_first_bar, s5th_open, s5th_high, s5th_low, s5th_close,
           [(s5th_ma_fast, GREEN, 1.6, False), (s5th_ma_mid, ORANGE, 1.7, False),
            (s5th_ma_slow, BLUE, 1.6, False), (s5th_ma_long, BLUE, 2.9, True)],
           (3.315, 164.98), (38.12, 87.19), s5th_yticks, s5th_title, "S5TH")

# TradingView logo
fig.add_artist(Rectangle(P(14, 1327), 16, 7, transform=PX, facecolor=DARK, edgecolor="none"))
fig.add_artist(Rectangle(P(22, 1338), 8, 18, transform=PX, facecolor=DARK, edgecolor="none"))
fig.add_artist(Ellipse(P(36, 1323.5), 7, 7, transform=PX, facecolor=DARK, edgecolor="none"))
fig.add_artist(Polygon([P(37, 1338), P(44.5, 1338), P(52, 1320), P(44.5, 1320)], closed=True,
                       transform=PX, facecolor=DARK, edgecolor="none"))
fig.text(59, H - 1338, "TradingView", transform=PX, ha="left", va="baseline", fontsize=16.5,
         fontweight="bold", family=["Inter", "DejaVu Sans"], color=DARK)

fig.savefig("out.png", dpi=100, facecolor=fig.get_facecolor())
